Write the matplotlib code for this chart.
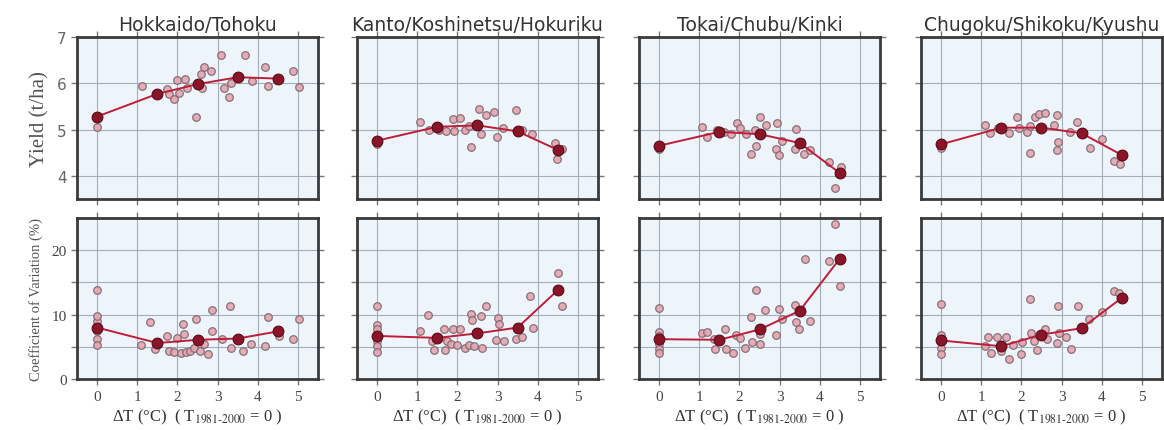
import matplotlib
matplotlib.use("Agg")
import matplotlib.pyplot as plt
import numpy as np

plt.rcParams["mathtext.fontset"] = "stix"

REGIONS = ["Hokkaido/Tohoku", "Kanto/Koshinetsu/Hokuriku",
           "Tokai/Chubu/Kinki", "Chugoku/Shikoku/Kyushu"]

# class means at each warming step
MEAN_DT = [0, 1.5, 2.5, 3.5, 4.5]

# Hokkaido/Tohoku
ht_yield_mean = [5.28, 5.77, 5.98, 6.13, 6.10]
ht_yield_dt = [0, 1.12, 1.73, 1.79, 1.92, 2.04, 2.0, 2.18, 2.25, 2.46, 2.58, 2.67,
               2.83, 2.6, 3.08, 3.15, 3.29, 3.33, 3.67, 3.85, 4.17, 4.25, 4.88, 5.02]
ht_yield = [5.06, 5.93, 5.88, 5.76, 5.67, 5.78, 6.06, 6.10, 5.90, 5.26, 6.19, 6.34,
            6.27, 5.90, 6.60, 5.90, 5.71, 6.01, 6.60, 6.05, 6.34, 5.93, 6.27, 5.91]
ht_cv_mean = [8.0, 5.6, 6.1, 6.3, 7.4]
ht_cv_dt = [0, 0, 0, 0, 0, 0, 1.1, 1.32, 1.43, 1.75, 1.79, 1.92, 2.0, 2.15, 2.17,
            2.08, 2.21, 2.32, 2.42, 2.46, 2.57, 2.67, 2.75, 2.85, 2.85, 3.12, 3.32,
            3.33, 3.62, 3.83, 4.17, 4.25, 4.54, 4.88, 5.02]
ht_cv = [13.9, 9.0, 7.5, 6.2, 5.3, 9.8, 5.3, 8.9, 4.7, 6.7, 4.4, 4.2, 6.4, 8.5, 7.0,
         4.0, 4.2, 4.4, 4.9, 9.3, 4.4, 5.4, 3.9, 7.5, 10.7, 6.2, 11.3,
         4.9, 4.4, 5.4, 5.2, 9.7, 6.7, 6.3, 9.4]

# Kanto/Koshinetsu/Hokuriku
kk_yield_mean = [4.76, 5.06, 5.09, 4.96, 4.56]
kk_yield_dt = [0, 1.07, 1.3, 1.55, 1.89, 2.06, 1.71, 1.92, 2.2, 2.33, 2.54, 2.7,
               2.91, 2.6, 2.99, 3.13, 3.45, 3.6, 3.86, 4.44, 4.6, 4.48, 2.28]
kk_yield = [4.68, 5.17, 4.99, 5.00, 5.22, 5.24, 4.97, 4.96, 5.00, 4.63, 5.44, 5.31,
            5.37, 4.91, 4.83, 5.04, 5.42, 4.99, 4.90, 4.70, 4.59, 4.37, 5.08]
kk_cv_mean = [6.7, 6.4, 7.1, 8.0, 13.8]
kk_cv_dt = [0, 0, 0, 0, 0, 0, 1.07, 1.26, 1.36, 1.42, 1.67, 1.7, 1.75, 1.83, 1.89,
            2.06, 2.0, 2.19, 2.29, 2.33, 2.37, 2.42, 2.58, 2.62, 2.7, 2.95, 3.02,
            3.03, 3.17, 3.46, 3.6, 3.8, 3.88, 4.5, 4.6]
kk_cv = [11.3, 8.4, 7.7, 5.9, 5.2, 4.2, 7.4, 9.9, 5.9, 4.5, 7.7, 4.5, 5.9, 5.5, 7.7,
         7.7, 5.3, 4.9, 5.3, 10.1, 9.2, 5.2, 9.8, 4.9, 11.4, 6.0, 9.5,
         8.5, 5.9, 6.3, 6.6, 12.9, 8.0, 16.4, 11.4]

# Tokai/Chubu/Kinki
tc_yield_mean = [4.65, 4.95, 4.90, 4.71, 4.06]
tc_yield_dt = [0, 1.08, 1.2, 1.43, 1.61, 1.93, 2.01, 1.78, 2.17, 2.38, 2.5, 2.42,
               2.3, 2.65, 2.93, 2.91, 2.98, 3.05, 3.38, 3.42, 3.6, 3.76, 4.24,
               4.53, 4.39]
tc_yield = [4.59, 5.06, 4.83, 4.99, 4.95, 5.14, 5.04, 4.90, 4.90, 5.00, 5.27, 4.65,
            4.47, 5.09, 5.14, 4.58, 4.45, 4.76, 4.59, 5.01, 4.47, 4.56, 4.29,
            4.18, 3.73]
tc_cv_mean = [6.2, 6.1, 7.7, 10.6, 18.7]
tc_cv_dt = [0, 0, 0, 0, 0, 0, 1.08, 1.2, 1.36, 1.39, 1.64, 1.66, 1.83, 1.91, 2.01,
            2.13, 2.3, 2.32, 2.42, 2.52, 2.52, 2.63, 2.91, 2.98, 3.06, 3.38, 3.42,
            3.48, 3.75, 3.63, 4.22, 4.39, 4.5]
tc_cv = [11.1, 7.3, 6.7, 5.4, 4.7, 4.0, 7.2, 7.3, 6.2, 4.7, 7.8, 4.6, 4.1, 6.8, 6.4,
         4.9, 9.6, 5.8, 13.8, 7.0, 5.5, 10.7, 6.8, 10.9, 9.4, 11.5, 8.8,
         7.7, 9.0, 18.6, 18.4, 24.1, 14.4]

# Chugoku/Shikoku/Kyushu
cs_yield_mean = [4.68, 5.04, 5.04, 4.92, 4.45]
cs_yield_dt = [0, 1.09, 1.22, 1.42, 1.69, 1.88, 1.94, 2.15, 2.21, 2.21, 2.33, 2.44,
               2.6, 2.88, 2.81, 2.91, 2.88, 3.21, 3.39, 3.7, 4.01, 4.3, 4.45]
cs_yield = [4.61, 5.09, 4.92, 5.04, 4.92, 5.26, 5.04, 4.95, 5.08, 4.50, 5.26, 5.33,
            5.35, 5.31, 5.09, 4.73, 4.56, 4.95, 5.17, 4.61, 4.79, 4.32, 4.25]
cs_cv_mean = [6.0, 5.1, 6.9, 7.9, 12.6]
cs_cv_dt = [0, 0, 0, 0, 0, 0, 1.1, 1.17, 1.25, 1.4, 1.5, 1.63, 1.69, 1.78, 1.98,
            2.02, 2.21, 2.24, 2.31, 2.39, 2.6, 2.64, 2.88, 2.91, 2.93, 3.1, 3.24,
            3.41, 3.68, 4.01, 4.3, 4.42]
cs_cv = [11.7, 6.8, 6.2, 5.7, 4.8, 3.9, 5.2, 6.5, 4.1, 6.5, 4.4, 6.6, 3.1, 5.3, 3.9,
         5.8, 12.4, 7.2, 5.9, 4.5, 7.7, 6.2, 5.6, 11.3, 7.2, 6.5, 4.6,
         11.3, 9.3, 10.4, 13.7, 13.3]

YIELD_SETS = [(ht_yield_dt, ht_yield, ht_yield_mean),
              (kk_yield_dt, kk_yield, kk_yield_mean),
              (tc_yield_dt, tc_yield, tc_yield_mean),
              (cs_yield_dt, cs_yield, cs_yield_mean)]
CV_SETS = [(ht_cv_dt, ht_cv, ht_cv_mean),
           (kk_cv_dt, kk_cv, kk_cv_mean),
           (tc_cv_dt, tc_cv, tc_cv_mean),
           (cs_cv_dt, cs_cv, cs_cv_mean)]

SERIF = ["Liberation Serif", "DejaVu Serif"]
FACE = "#eef5fa"
GRID = "#a4aeb8"
SPINE = "#3a3a3a"


def style_axes(ax):
    ax.set_facecolor(FACE)
    for s in ax.spines.values():
        s.set_linewidth(2.0)
        s.set_color(SPINE)
    ax.grid(True, color=GRID, linewidth=0.8)
    ax.set_axisbelow(True)
    ax.tick_params(direction="out", length=4, width=1, color="#777777",
                   top=True, right=True, labelsize=11, labelcolor="#444444")
    ax.set_xlim(-0.5, 5.5)
    ax.set_xticks(np.arange(0, 6))


def draw_panel(ax, dt, vals, means):
    ax.scatter(dt, vals, s=30, facecolor="#e3a4ae", edgecolor="#7d6570",
               linewidth=0.9, alpha=0.9, zorder=3)
    ax.plot(MEAN_DT, means, color="#c01d38", linewidth=1.4, zorder=4)
    ax.scatter(MEAN_DT, means, s=60, facecolor="#8a1528", edgecolor="#5a0a18",
               linewidth=0.8, zorder=5)


fig = plt.figure(figsize=(11.64, 4.31), dpi=100)
lefts = [0.0662, 0.3067, 0.549, 0.7912]
width = 0.207

for i, region in enumerate(REGIONS):
    ax_top = fig.add_axes([lefts[i], 0.536, width, 0.376])
    ax_bot = fig.add_axes([lefts[i], 0.118, width, 0.374])

    style_axes(ax_top)
    draw_panel(ax_top, *YIELD_SETS[i])
    ax_top.set_ylim(3.5, 7)
    ax_top.set_yticks([4, 5, 6, 7])
    ax_top.tick_params(axis="y", labelcolor="#666666")
    ax_top.set_title(region, fontsize=13.5, color="#333333", pad=5)
    ax_top.tick_params(labelbottom=False)

    style_axes(ax_bot)
    draw_panel(ax_bot, *CV_SETS[i])
    ax_bot.set_ylim(0, 25)
    ax_bot.set_yticks([0, 5, 10, 15, 20])
    ax_bot.set_yticklabels(["0", "", "10", "", "20"], family=SERIF)
    ax_bot.set_xticklabels([str(t) for t in range(6)], family=SERIF)
    ax_bot.set_xlabel(r"ΔT (°C)  ( T$_{\mathrm{1981\text{-}2000}}$ = 0 )",
                      family=SERIF, fontsize=12, color="#333333", labelpad=3)

    if i == 0:
        ax_top.set_ylabel("Yield (t/ha)", family=SERIF, fontsize=15,
                          color="#555555", labelpad=5)
        ax_bot.set_ylabel("Coefficient of Variation (%)", family=SERIF,
                          fontsize=10.5, color="#555555", labelpad=6)
    else:
        ax_top.tick_params(labelleft=False)
        ax_bot.tick_params(labelleft=False)

fig.savefig("out.png", dpi=100, facecolor="white")
